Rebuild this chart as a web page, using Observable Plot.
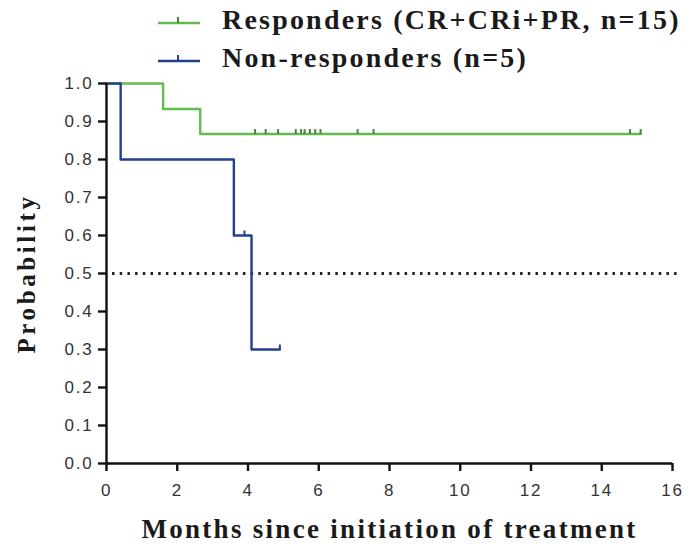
<!DOCTYPE html>
<html>
<head>
<meta charset="utf-8">
<script src="https://cdn.jsdelivr.net/npm/d3@7"></script>
<script src="https://cdn.jsdelivr.net/npm/@observablehq/plot@0.6"></script>
<style>
  body { margin: 0; background: #fff; }
  #wrap { position: relative; width: 695px; }
  #legend { position: relative; height: 75px; }
  .item { position: absolute; left: 152px; display: flex; align-items: center; }
  .item span { font: bold 28px "Liberation Serif", serif; letter-spacing: 2.2px; color: #1a1a1a; margin-left: 20px; white-space: nowrap; }
  svg.km g[aria-label="x-axis label"] text,
  svg.km g[aria-label="y-axis label"] text { font-family: "Liberation Serif", serif; font-weight: bold; fill: #1a1a1a; }
  svg.km g[aria-label="x-axis label"] text { font-size: 27px; letter-spacing: 2.3px; }
  svg.km g[aria-label="y-axis label"] text { font-size: 25px; letter-spacing: 3.6px; }
  svg.km g[aria-label="x-axis tick label"] text,
  svg.km g[aria-label="y-axis tick label"] text { font-family: "Liberation Sans", sans-serif; font-size: 17px; letter-spacing: 1.8px; fill: #333; }
</style>
</head>
<body>
<div id="wrap">
  <div id="legend"></div>
  <div id="chart"></div>
</div>
<script>
// Kaplan–Meier steps: time (months) and survival probability
const respTime = [0, 1.6, 2.65, 15.1];
const respProb = [1, 0.933, 0.867, 0.867];
const respCensored = [4.2, 4.5, 4.85, 5.35, 5.5, 5.6, 5.75, 5.9, 6.05, 7.1, 7.55, 14.8, 15.1];

const nonTime = [0, 0.4, 3.6, 4.1, 4.9];
const nonProb = [1, 0.8, 0.6, 0.3, 0.3];
const nonCensored = [3.9, 4.9];

const seriesNames = ["Responders (CR+CRi+PR, n=15)", "Non-responders (n=5)"];
const seriesColors = ["#62bb4c", "#233f8f"];
const censorColors = ["#4f7f43", "#233f8f"];

const xTicks = [0, 2, 4, 6, 8, 10, 12, 14, 16];
const yTicks = [0, 0.1, 0.2, 0.3, 0.4, 0.5, 0.6, 0.7, 0.8, 0.9, 1.0];
const medianLevel = [0.5];
const medianSpan = [0, 16.2];

// Survival value of a step curve at time t
function stepAt(times, probs, t) {
  let p = probs[0];
  for (let i = 0; i < times.length; i++) if (times[i] <= t) p = probs[i];
  return p;
}

const curves = [];
respTime.forEach((t, i) => curves.push({series: seriesNames[0], t, p: respProb[i]}));
nonTime.forEach((t, i) => curves.push({series: seriesNames[1], t, p: nonProb[i]}));

const censors = [];
respCensored.forEach(t => censors.push({series: seriesNames[0], t, p: stepAt(respTime, respProb, t)}));
nonCensored.forEach(t => censors.push({series: seriesNames[1], t, p: stepAt(nonTime, nonProb, t)}));

// Upward censoring tick used as a dot symbol (length = r)
const censorTick = {
  draw(context, size) {
    const r = Math.sqrt(size / Math.PI);
    context.moveTo(0, 0);
    context.lineTo(0, -r);
  }
};

const plot = Plot.plot({
  width: 695,
  height: 475,
  marginTop: 8,
  marginLeft: 106,
  marginRight: 23,
  marginBottom: 87,
  className: "km",
  style: {background: "#fff", overflow: "visible"},
  x: {domain: [0, 16]},
  y: {domain: [0, 1]},
  color: {domain: seriesNames, range: seriesColors},
  marks: [
    Plot.ruleY(medianLevel, {x1: medianSpan[0], x2: medianSpan[1], stroke: "#222", strokeWidth: 3, strokeDasharray: "2.5,5.2", strokeDashoffset: -6}),
    Plot.line(curves, {x: "t", y: "p", z: "series", stroke: "series", strokeWidth: 2.4, curve: "step-after"}),
    Plot.dot(censors, {x: "t", y: "p", r: 5, symbol: censorTick, fill: "none", stroke: d => censorColors[seriesNames.indexOf(d.series)], strokeWidth: 2}),
    Plot.ruleX([0], {stroke: "#111", strokeWidth: 2.4}),
    Plot.ruleY([0], {stroke: "#111", strokeWidth: 2.4}),
    Plot.axisX({ticks: xTicks, tickSize: 8, tickPadding: 12, strokeWidth: 2.4, stroke: "#111",
      label: "Months since initiation of treatment", labelAnchor: "center", labelArrow: "none", labelOffset: 74}),
    Plot.axisY({ticks: yTicks, tickFormat: d3.format(".1f"), tickSize: 8, tickPadding: 5, strokeWidth: 2.4, stroke: "#111",
      label: "Probability", labelAnchor: "center", labelArrow: "none", labelOffset: 89})
  ]
});
document.getElementById("chart").appendChild(plot);

// Legend: line swatch with a censoring tick, then the series name
const legend = d3.select("#legend");
seriesNames.forEach((name, i) => {
  const item = legend.append("div").attr("class", "item").style("top", i === 0 ? "3px" : "41px");
  const sw = item.append("svg").attr("width", 50).attr("height", 34);
  sw.append("line").attr("x1", 6).attr("x2", 48).attr("y1", 20).attr("y2", 20)
    .attr("stroke", seriesColors[i]).attr("stroke-width", 2.4);
  sw.append("line").attr("x1", 26).attr("x2", 26).attr("y1", 20).attr("y2", 14)
    .attr("stroke", censorColors[i]).attr("stroke-width", 2);
  item.append("span").text(name);
});
</script>
</body>
</html>
